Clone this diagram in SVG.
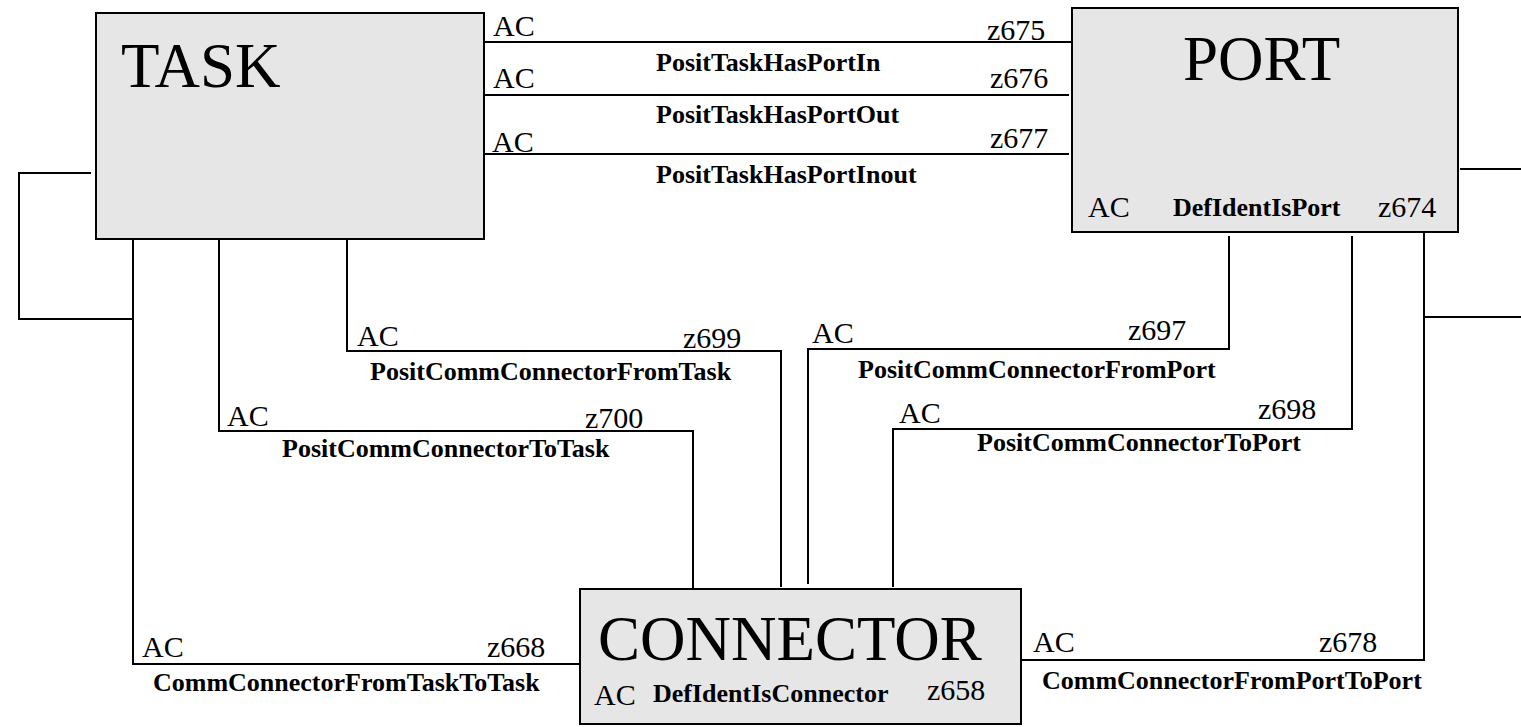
<svg xmlns="http://www.w3.org/2000/svg" width="1521" height="727" viewBox="0 0 1521 727">
<style>
.box{fill:#e6e6e6;stroke:#000;stroke-width:2}
.ln{fill:none;stroke:#000;stroke-width:2}
.title{font-family:"Liberation Serif","Times New Roman",serif;font-size:63px;fill:#000}
.lab{font-family:"Liberation Serif","Times New Roman",serif;font-size:30px;fill:#000}
.rel{font-family:"Liberation Serif","Times New Roman",serif;font-size:26px;font-weight:bold;fill:#000}
</style>
<rect x="0" y="0" width="1521" height="727" fill="#fff"/>
<g id="connectors">
  <g id="c-in">
    <line class="ln" x1="484" y1="42" x2="1072" y2="42"/>
    <text class="lab" x="493" y="36">AC</text>
    <text class="lab" x="987" y="39.5">z675</text>
    <text class="rel" x="656" y="71">PositTaskHasPortIn</text>
  </g>
  <g id="c-out">
    <line class="ln" x1="484" y1="95" x2="1069" y2="95"/>
    <text class="lab" x="493" y="88">AC</text>
    <text class="lab" x="990" y="88">z676</text>
    <text class="rel" x="656" y="123">PositTaskHasPortOut</text>
  </g>
  <g id="c-inout">
    <line class="ln" x1="484" y1="154" x2="1069" y2="154"/>
    <text class="lab" x="492" y="152">AC</text>
    <text class="lab" x="990" y="148">z677</text>
    <text class="rel" x="656" y="183">PositTaskHasPortInout</text>
  </g>
  <g id="c-loop-task">
    <polyline class="ln" points="91,173 19,173 19,319 133,319"/>
  </g>
  <g id="c-task-task">
    <polyline class="ln" points="133,239 133,664 584,664"/>
    <text class="lab" x="142" y="657">AC</text>
    <text class="lab" x="487" y="657">z668</text>
    <text class="rel" x="153" y="691">CommConnectorFromTaskToTask</text>
  </g>
  <g id="c-to-task">
    <polyline class="ln" points="219,239 219,431 693,431 693,589"/>
    <text class="lab" x="227" y="426">AC</text>
    <text class="lab" x="585" y="428">z700</text>
    <text class="rel" x="282" y="457">PositCommConnectorToTask</text>
  </g>
  <g id="c-from-task">
    <polyline class="ln" points="347,239 347,351 781,351 781,587"/>
    <text class="lab" x="357" y="346">AC</text>
    <text class="lab" x="683" y="348">z699</text>
    <text class="rel" x="370" y="380">PositCommConnectorFromTask</text>
  </g>
  <g id="c-from-port">
    <polyline class="ln" points="1229,236 1229,349 808,349 808,584"/>
    <text class="lab" x="812" y="343">AC</text>
    <text class="lab" x="1128" y="340">z697</text>
    <text class="rel" x="858" y="378">PositCommConnectorFromPort</text>
  </g>
  <g id="c-to-port">
    <polyline class="ln" points="1352,236 1352,429 893,429 893,587"/>
    <text class="lab" x="899" y="423">AC</text>
    <text class="lab" x="1258" y="419">z698</text>
    <text class="rel" x="977" y="451">PositCommConnectorToPort</text>
  </g>
  <g id="c-port-port">
    <polyline class="ln" points="1424,232 1424,660 1022,660"/>
    <line class="ln" x1="1424" y1="317" x2="1521" y2="317"/>
    <line class="ln" x1="1460" y1="169" x2="1521" y2="169"/>
    <text class="lab" x="1033" y="652">AC</text>
    <text class="lab" x="1319" y="652">z678</text>
    <text class="rel" x="1042" y="689">CommConnectorFromPortToPort</text>
  </g>
</g>
<g id="task">
  <rect class="box" x="96" y="13" width="388" height="226"/>
  <text class="title" x="121" y="87">TASK</text>
</g>
<g id="port">
  <rect class="box" x="1072" y="8" width="386" height="224"/>
  <text class="title" x="1183" y="80">PORT</text>
  <text class="lab" x="1088" y="217">AC</text>
  <text class="rel" x="1173" y="216">DefIdentIsPort</text>
  <text class="lab" x="1378" y="217">z674</text>
</g>
<g id="connector">
  <rect class="box" x="580" y="589" width="441" height="135"/>
  <text class="title" x="598" y="660">CONNECTOR</text>
  <text class="lab" x="594" y="705">AC</text>
  <text class="rel" x="653" y="702">DefIdentIsConnector</text>
  <text class="lab" x="927" y="700">z658</text>
</g>
</svg>
